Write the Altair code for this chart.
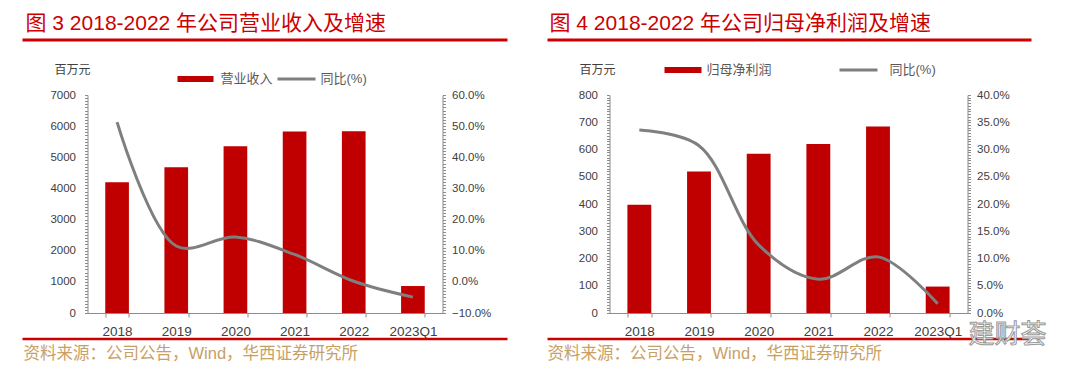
import altair as alt
import pandas as pd

# ---------------- data ----------------
cats = ["2018", "2019", "2020", "2021", "2022", "2023Q1"]
revenue = [4200, 4681, 5354, 5824, 5835, 866]
revenue_yoy = [51.3, 11.5, 14.4, 8.8, 0.2, -4.9]
profit = [397, 519, 584, 620, 684, 97]
profit_yoy = [33.6, 30.7, 12.5, 6.2, 10.3, 1.7]

title_left = "图 3 2018-2022 年公司营业收入及增速"
title_right = "图 4 2018-2022 年公司归母净利润及增速"
unit_label = "百万元"
legend_left = ["营业收入", "同比(%)"]
legend_right = ["归母净利润", "同比(%)"]
source_text = "资料来源：公司公告，Wind，华西证券研究所"
watermark = "建财荟"

RED = "#C00000"
TITLE_RED = "#CC0000"
GRAY = "#7F7F7F"
AXIS = "#8C8C8C"
LABEL = "#404040"
SRC = "#C9A063"
FONT = "Liberation Sans, Noto Sans CJK SC"

PH = 218


def one(text):
    return pd.DataFrame({"t": [text]})


def panel(vals, yoy, ymax, ystep, ymajor, pmin, pmax, pstep, pmajor,
          title, legend, geo, width, wm=False):
    df = pd.DataFrame({"cat": cats, "val": vals, "yoy": yoy})
    xenc = alt.X(
        "cat:N", sort=cats,
        scale=alt.Scale(paddingInner=0.6, paddingOuter=0.3),
        axis=alt.Axis(title=None, labelAngle=0, labelFontSize=13.5, labelFont=FONT,
                      labelColor=LABEL, domainColor=AXIS, tickColor=AXIS,
                      tickBand="extent", tickSize=4, labelPadding=7),
    )
    yvals = [i * ystep for i in range(int(round(ymax / ystep)) + 1)]
    pn = int(round((pmax - pmin) / pstep))
    pvals = [pmin + i * pstep for i in range(pn + 1)]
    bars = alt.Chart(df).mark_bar(color=RED).encode(
        x=xenc,
        y=alt.Y("val:Q", scale=alt.Scale(domain=[0, ymax], nice=False, zero=True),
                axis=alt.Axis(title=None, values=yvals, grid=False, tickSize=3,
                              labelExpr=f"datum.value % {ymajor} === 0 ? format(datum.value, 'd') : ''",
                              labelOverlap=False, labelFontSize=11.5, labelFont=FONT,
                              labelColor=LABEL, domainColor=AXIS, tickColor=AXIS,
                              labelPadding=9)),
    )
    line = alt.Chart(df).mark_line(color=GRAY, strokeWidth=3, interpolate="catmull-rom").encode(
        x=xenc,
        y=alt.Y("yoy:Q", scale=alt.Scale(domain=[pmin, pmax], nice=False, zero=False),
                axis=alt.Axis(title=None, orient="right", values=pvals, grid=False, tickSize=3,
                              labelExpr=f"abs(datum.value % {pmajor}) < 0.001 ? format(datum.value, '.1f') + '%' : ''",
                              labelOverlap=False, labelFontSize=11.5, labelFont=FONT,
                              labelColor=LABEL, domainColor=AXIS, tickColor=AXIS,
                              labelPadding=6)),
    )
    g = geo
    title_t = alt.Chart(one(title)).mark_text(
        align="left", baseline="alphabetic", font=FONT, fontSize=21, color=TITLE_RED
    ).encode(x=alt.value(g["title_x"]), y=alt.value(-65), text="t:N")
    top_rule = alt.Chart(one("")).mark_rule(color=TITLE_RED, strokeWidth=3).encode(
        x=alt.value(g["rule_x1"]), x2=alt.value(g["rule_x2"]), y=alt.value(-55))
    bot_rule = alt.Chart(one("")).mark_rule(color=TITLE_RED, strokeWidth=2.5).encode(
        x=alt.value(g["rule_x1"]), x2=alt.value(g["rule_x2"]), y=alt.value(244))
    unit_t = alt.Chart(one(unit_label)).mark_text(
        align="center", baseline="middle", font=FONT, fontSize=12, color=LABEL
    ).encode(x=alt.value(g["unit_x"]), y=alt.value(-25), text="t:N")
    leg_rect = alt.Chart(one("")).mark_rect(color=RED).encode(
        x=alt.value(g["rect_x1"]), x2=alt.value(g["rect_x2"]),
        y=alt.value(g["leg_y"] - 3), y2=alt.value(g["leg_y"] + 3))
    leg_t1 = alt.Chart(one(legend[0])).mark_text(
        align="left", baseline="middle", font=FONT, fontSize=13, color="#595959"
    ).encode(x=alt.value(g["t1_x"]), y=alt.value(g["leg_y"]), text="t:N")
    leg_line = alt.Chart(one("")).mark_rule(color=GRAY, strokeWidth=3).encode(
        x=alt.value(g["line_x1"]), x2=alt.value(g["line_x2"]), y=alt.value(g["leg_y"]))
    leg_t2 = alt.Chart(one(legend[1])).mark_text(
        align="left", baseline="middle", font=FONT, fontSize=13, color="#595959"
    ).encode(x=alt.value(g["t2_x"]), y=alt.value(g["leg_y"]), text="t:N")
    src = alt.Chart(one(source_text)).mark_text(
        align="left", baseline="alphabetic", font=FONT, fontSize=16.5, color=SRC
    ).encode(x=alt.value(g["src_x"]), y=alt.value(264), text="t:N")
    layers = [bars, line, title_t, top_rule, bot_rule, unit_t, leg_rect, leg_t1,
              leg_line, leg_t2, src]
    if wm:
        wm_t = alt.Chart(one(watermark)).mark_text(
            align="center", baseline="middle", font="Noto Sans CJK SC", fontSize=26,
            color="white", stroke="#9A9A9A", strokeWidth=1
        ).encode(x=alt.value(398), y=alt.value(240), text="t:N")
        layers.append(wm_t)
    return alt.layer(*layers).resolve_scale(y="independent").properties(width=width, height=PH)


geo_left = dict(title_x=-62, rule_x1=-65, rule_x2=420, unit_x=-15, leg_y=-16,
                rect_x1=90, rect_x2=126, t1_x=133, line_x1=190, line_x2=228, t2_x=233,
                src_x=-64)
geo_right = dict(title_x=-60, rule_x1=-62, rule_x2=422, unit_x=-12, leg_y=-25,
                 rect_x1=55, rect_x2=92, t1_x=97, line_x1=230, line_x2=268, t2_x=280,
                 src_x=-62)

left = panel(revenue, revenue_yoy, 7000, 100, 1000, -10, 60, 1, 10,
             title_left, legend_left, geo_left, 355)
right = panel(profit, profit_yoy, 800, 10, 100, 0, 40, 0.5, 5,
              title_right, legend_right, geo_right, 358, wm=True)

chart = alt.hconcat(left, right, spacing=167, bounds="flush").properties(
    padding={"left": 12.5, "top": 5, "right": 5, "bottom": 5}
).configure_view(stroke=None)

chart.save("out.html", embed_options={"renderer": "svg", "actions": False})
